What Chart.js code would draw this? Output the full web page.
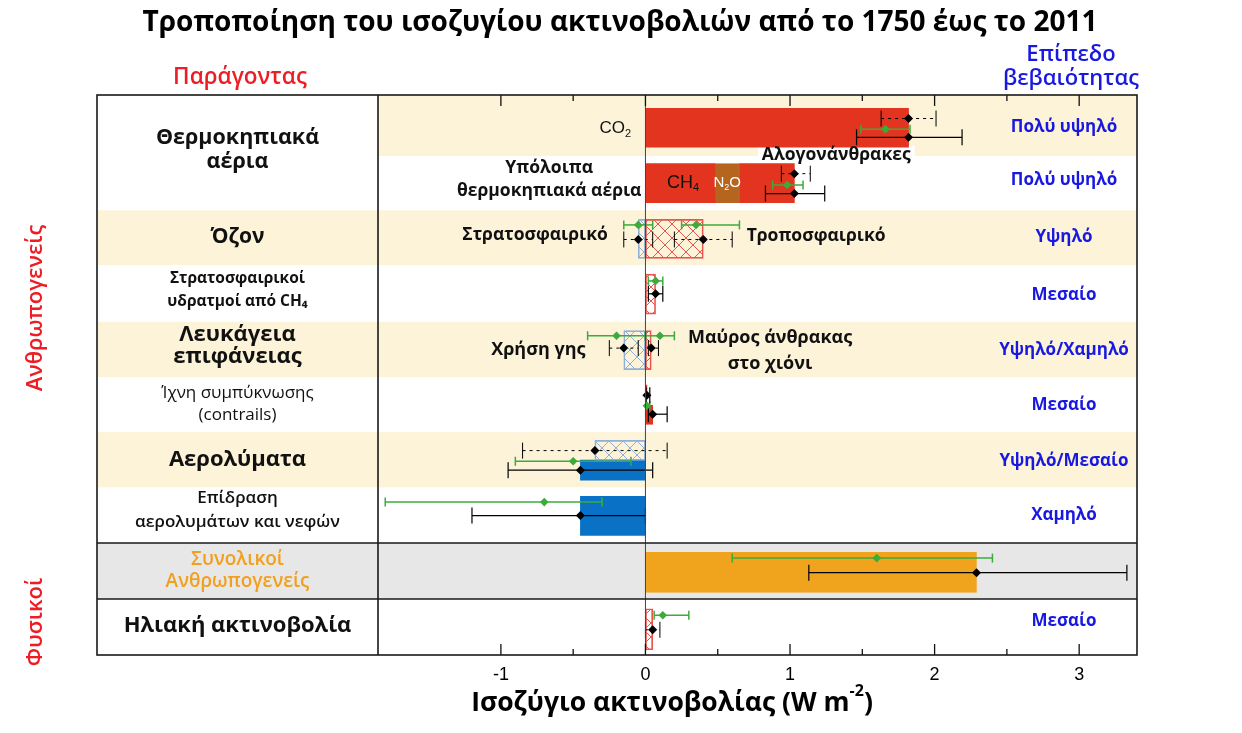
<!DOCTYPE html>
<html>
<head>
<meta charset="utf-8">
<script src="https://cdn.jsdelivr.net/npm/chart.js@4.4.0/dist/chart.umd.min.js"></script>
<style>
  html, body { margin: 0; padding: 0; background: #fff; }
  #wrap { width: 1242px; height: 733px; position: relative; }
</style>
</head>
<body>
<div id="wrap"><canvas id="chart"></canvas></div>
<script>
// ---- data (W m-2), rows top to bottom ----
const factors = ['CO2', 'Υπόλοιπα θερμοκηπιακά αέρια', 'Όζον', 'Στρατοσφαιρικοί υδρατμοί', 'Λευκάγεια επιφάνειας',
  'Ίχνη συμπύκνωσης', 'Αερολύματα', 'Επίδραση αερολυμάτων και νεφών', 'Συνολικοί Ανθρωπογενείς', 'Ηλιακή ακτινοβολία'];
const leftLabels = [['Θερμοκηπιακά', 'αέρια'], null, ['Όζον'], ['Στρατοσφαιρικοί', 'υδρατμοί από CH₄'], ['Λευκάγεια', 'επιφάνειας'],
  ['Ίχνη συμπύκνωσης', '(contrails)'], ['Αερολύματα'], ['Επίδραση', 'αερολυμάτων και νεφών'], ['Συνολικοί', 'Ανθρωπογενείς'], ['Ηλιακή ακτινοβολία']];
const confidence = ['Πολύ υψηλό', 'Πολύ υψηλό', 'Υψηλό', 'Μεσαίο', 'Υψηλό/Χαμηλό', 'Μεσαίο', 'Υψηλό/Μεσαίο', 'Χαμηλό', '', 'Μεσαίο'];

// bar segments
const barRow  = [0, 1, 1, 1, 2, 2, 3, 4, 4, 5, 5, 6, 6, 7, 8, 9];
const barFrom = [0, 0, 0.48, 0.65, -0.05, 0, 0, -0.15, 0, 0, 0, -0.35, -0.45, -0.45, 0, 0];
const barTo   = [1.82, 0.48, 0.65, 1.03, 0, 0.40, 0.07, 0, 0.04, 0.01, 0.05, 0, 0, 0, 2.29, 0.05];
const barKind = ['co2', 'ch4', 'n2o', 'halo', 'stratO3', 'tropO3', 'h2o', 'landuse', 'bc', 'contrail', 'cirrus', 'ari', 'erfari', 'aci', 'total', 'solar'];

// uncertainty ranges: rf = dotted black, erf = solid black, ar4 = green
const errRow  = [0, 0, 0, 1, 1, 1, 2, 2, 2, 2, 3, 3, 4, 4, 4, 4, 5, 5, 5, 6, 6, 6, 7, 7, 8, 8, 9, 9];
const errBest = [1.82, 1.66, 1.82, 1.03, 0.98, 1.03, -0.05, -0.05, 0.35, 0.40, 0.07, 0.07, -0.20, -0.15, 0.10, 0.04, 0.01, 0.01, 0.05, -0.35, -0.50, -0.45, -0.70, -0.45, 1.60, 2.29, 0.12, 0.05];
const errLow  = [1.63, 1.49, 1.46, 0.94, 0.88, 0.83, -0.15, -0.15, 0.25, 0.20, 0.02, 0.02, -0.40, -0.25, 0.00, 0.02, 0.005, 0.003, 0.02, -0.85, -0.90, -0.95, -1.80, -1.20, 0.60, 1.13, 0.06, 0.00];
const errHigh = [2.01, 1.83, 2.19, 1.14, 1.09, 1.24, 0.05, 0.05, 0.65, 0.60, 0.12, 0.12, 0.00, -0.05, 0.20, 0.09, 0.03, 0.03, 0.15, 0.15, -0.10, 0.05, -0.30, 0.00, 2.40, 3.33, 0.30, 0.10];
const errKind = ['rf', 'ar4', 'erf', 'rf', 'ar4', 'erf', 'ar4', 'rf', 'ar4', 'rf', 'ar4', 'erf', 'ar4', 'rf', 'ar4', 'rf', 'erf', 'ar4', 'erf', 'rf', 'ar4', 'erf', 'ar4', 'erf', 'ar4', 'erf', 'ar4', 'rf'];

const xTickLabels = [-1, 0, 1, 2, 3];

// ---- layout / styles ----
const PANEL_LEFT = 97;
const rowEdges = [0, 1.09, 2.06, 3.04, 4.05, 5.04, 6.02, 7.01, 8, 9, 10];
const errLane = [0.42, 0.61, 0.755, 0.405, 0.607, 0.76, 0.32, 0.58, 0.32, 0.58, 0.32, 0.55, 0.30, 0.52, 0.30, 0.52,
  0.36, 0.55, 0.70, 0.35, 0.54, 0.70, 0.27, 0.51, 0.27, 0.53, 0.29, 0.55];
const confLane = [0.57, 0.52, 0.54, 0.57, 0.55, 0.54, 0.54, 0.5, 0, 0.4];
const leftLane = [0.98, 0, 0.53, 0.49, 0.48, 0.52, 0.52, 0.41, 0.5, 0.48];
const rowBand  = ['beige', 'white', 'beige', 'white', 'beige', 'white', 'beige', 'white', 'gray', 'white'];
const leftBand = ['white', 'white', 'beige', 'white', 'beige', 'white', 'beige', 'white', 'gray', 'white'];
const bandColor = { beige: '#fcf3d9', white: '#ffffff', gray: '#e7e7e7' };
const leftFont = [[21.5, 'bold', 24], null, [21, 'bold', 0], [15.5, 'bold', 23], [22, 'bold', 22], [17, 'normal', 22],
  [22, 'bold', 0], [17, '600', 24], [19, '600', 22], [22, 'bold', 0]];

function hatch(color) {
  const c = document.createElement('canvas');
  c.width = c.height = 14;
  const g = c.getContext('2d');
  g.strokeStyle = color; g.lineWidth = 1;
  g.beginPath();
  g.moveTo(0, 0); g.lineTo(14, 14);
  g.moveTo(14, 0); g.lineTo(0, 14);
  g.stroke();
  return g.createPattern(c, 'repeat');
}
const RED = '#e2341f', HRED = '#e8554c', HBLUE = '#8fb0d8', BLUE = '#0a72c6';
const redHatch = hatch(HRED), blueHatch = hatch(HBLUE);
const barStyle = {
  co2:      { fill: RED, border: RED, lane: 0.585, thick: 39 },
  ch4:      { fill: RED, border: RED, lane: 0.575, thick: 39 },
  n2o:      { fill: '#b5651d', border: '#b5651d', lane: 0.575, thick: 39 },
  halo:     { fill: RED, border: RED, lane: 0.575, thick: 39 },
  stratO3:  { fill: blueHatch, border: HBLUE, lane: 0.57, thick: 39 },
  tropO3:   { fill: redHatch, border: HRED, lane: 0.57, thick: 39 },
  h2o:      { fill: redHatch, border: HRED, lane: 0.555, thick: 40 },
  landuse:  { fill: blueHatch, border: HBLUE, lane: 0.555, thick: 39 },
  bc:       { fill: redHatch, border: HRED, lane: 0.555, thick: 39 },
  contrail: { fill: RED, border: HRED, lane: 0.27, thick: 10 },
  cirrus:   { fill: RED, border: RED, lane: 0.71, thick: 19 },
  ari:      { fill: blueHatch, border: HBLUE, lane: 0.345, thick: 20 },
  erfari:   { fill: BLUE, border: BLUE, lane: 0.70, thick: 20 },
  aci:      { fill: BLUE, border: BLUE, lane: 0.515, thick: 39 },
  total:    { fill: '#f0a31c', border: '#f0a31c', lane: 0.525, thick: 40 },
  solar:    { fill: redHatch, border: HRED, lane: 0.54, thick: 41 }
};
const errStyle = {
  rf:  { color: '#000', dash: [3, 4], width: 1, cap: 8, dot: 4.5 },
  erf: { color: '#000', dash: [], width: 1.2, cap: 8, dot: 4.5 },
  ar4: { color: '#3cab3c', dash: [], width: 1.5, cap: 4.5, dot: 4.3 }
};

// in-plot annotations: [parts, x value, y value, align, size, weight, family, color]
const SANS = "'Open Sans', 'DejaVu Sans', sans-serif";
const ARIAL = "'Liberation Sans', Arial, sans-serif";
const annotations = [
  [[['CO', 'n'], ['2', 'sub']], -0.1, 0.6, 'right', 17, 'normal', ARIAL, '#111'],
  [[['Υπόλοιπα', 'n']], -0.666, 1.3, 'center', 17.5, 'bold', SANS, '#111'],
  [[['θερμοκηπιακά αέρια', 'n']], -0.666, 1.72, 'center', 17.5, 'bold', SANS, '#111'],
  [[['CH', 'n'], ['4', 'sub']], 0.26, 1.57, 'center', 18, 'normal', ARIAL, '#111'],
  [[['N', 'n'], ['2', 'sub'], ['O', 'n']], 0.565, 1.57, 'center', 15, 'normal', ARIAL, '#fff'],
  [[['Αλογονάνθρακες', 'n']], 1.32, 1.08, 'center', 17.5, 'bold', SANS, '#111'],
  [[['Στρατοσφαιρικό', 'n']], -0.26, 2.5, 'right', 17.5, 'bold', SANS, '#111'],
  [[['Τροποσφαιρικό', 'n']], 0.70, 2.51, 'left', 17.5, 'bold', SANS, '#111'],
  [[['Χρήση γης', 'n']], -0.415, 4.55, 'right', 18, 'bold', SANS, '#111'],
  [[['Μαύρος άνθρακας', 'n']], 0.862, 4.33, 'center', 18, 'bold', SANS, '#111'],
  [[['στο χιόνι', 'n']], 0.862, 4.81, 'center', 18, 'bold', SANS, '#111']
];

function drawParts(ctx, parts, x, y, align, size, weight, family, color) {
  const fontOf = m => `${weight} ${m === 'n' ? size : Math.round(size * 0.62)}px ${family}`;
  let total = 0;
  parts.forEach(([t, m]) => { ctx.font = fontOf(m); total += ctx.measureText(t).width; });
  let cx = align === 'center' ? x - total / 2 : align === 'right' ? x - total : x;
  ctx.textAlign = 'left';
  ctx.textBaseline = 'middle';
  ctx.fillStyle = color;
  parts.forEach(([t, m]) => {
    ctx.font = fontOf(m);
    const dy = m === 'sub' ? size * 0.3 : m === 'sup' ? -size * 0.42 : 0;
    ctx.fillText(t, cx, y + dy);
    cx += ctx.measureText(t).width;
  });
  return total;
}

// ---- datasets ----
const datasets = [];
barRow.forEach((r, i) => {
  const s = barStyle[barKind[i]];
  datasets.push({
    type: 'bar', indexAxis: 'y', label: barKind[i], stack: 'all', order: 3,
    data: [{ y: r + s.lane, x: [barFrom[i], barTo[i]] }],
    backgroundColor: s.fill, borderColor: s.border, borderWidth: s.fill === RED || s.fill === BLUE ? 0 : 1,
    borderSkipped: false, barThickness: s.thick
  });
});
errRow.forEach((r, i) => {
  const s = errStyle[errKind[i]];
  const yv = r + errLane[i];
  datasets.push({
    type: 'line', order: 2, label: 'err' + i,
    data: [{ x: errLow[i], y: yv }, { x: errHigh[i], y: yv }],
    borderColor: s.color, borderWidth: s.width, borderDash: s.dash, fill: false, tension: 0,
    pointStyle: 'line', pointRotation: 90, pointRadius: s.cap, pointBorderColor: s.color,
    pointBorderWidth: s.width, pointHoverRadius: s.cap
  });
});
['erf', 'ar4'].forEach(group => {
  const idx = errRow.map((r, i) => i).filter(i => (group === 'ar4') === (errKind[i] === 'ar4'));
  const s = errStyle[group];
  datasets.push({
    type: 'line', order: 1, label: 'best-' + group, showLine: false,
    data: idx.map(i => ({ x: errBest[i], y: errRow[i] + errLane[i] })),
    pointStyle: 'rectRot', pointRadius: s.dot, pointBackgroundColor: s.color,
    pointBorderColor: s.color, pointBorderWidth: 0
  });
});

// ---- drawing of panel, frame and texts ----
const panel = {
  id: 'panel',
  beforeDatasetsDraw(chart) {
    const { ctx, chartArea: a, scales: { x, y } } = chart;
    ctx.save();
    factors.forEach((f, i) => {
      const t = y.getPixelForValue(rowEdges[i]), b = y.getPixelForValue(rowEdges[i + 1]);
      ctx.fillStyle = bandColor[rowBand[i]];
      ctx.fillRect(a.left, t, a.right - a.left, b - t);
      ctx.fillStyle = bandColor[leftBand[i]];
      ctx.fillRect(PANEL_LEFT, t, a.left - PANEL_LEFT, b - t);
    });
    // white backing behind the halocarbon label, under the marks
    const h = annotations.find(an => an[0][0][0] === 'Αλογονάνθρακες');
    ctx.font = `${h[5]} ${h[4]}px ${h[6]}`;
    const w = ctx.measureText(h[0][0][0]).width;
    const px = x.getPixelForValue(h[1]), py = y.getPixelForValue(h[2]);
    ctx.fillStyle = '#fff';
    ctx.fillRect(px - w / 2 - 4, py - 10, w + 8, y.getPixelForValue(rowEdges[1]) - py + 10);
    ctx.restore();
  },
  afterDatasetsDraw(chart) {
    const { ctx, chartArea: a, scales: { x, y } } = chart;
    ctx.save();
    // zero line
    const x0 = x.getPixelForValue(0);
    ctx.strokeStyle = '#444'; ctx.lineWidth = 1;
    ctx.beginPath(); ctx.moveTo(x0, a.top); ctx.lineTo(x0, a.bottom); ctx.stroke();

    // inward ticks
    ctx.strokeStyle = '#111'; ctx.lineWidth = 1.3;
    x.ticks.forEach(t => {
      if (Math.abs(t.value * 2 - Math.round(t.value * 2)) > 1e-6) return;
      const px = x.getPixelForValue(t.value);
      const len = Number.isInteger(t.value) ? 11 : 6;
      ctx.beginPath();
      ctx.moveTo(px, a.bottom); ctx.lineTo(px, a.bottom - len);
      ctx.moveTo(px, a.top); ctx.lineTo(px, a.top + len);
      ctx.stroke();
    });

    // frame
    ctx.strokeStyle = '#1a1a1a'; ctx.lineWidth = 1.6;
    ctx.strokeRect(PANEL_LEFT, a.top, a.right - PANEL_LEFT, a.bottom - a.top);
    ctx.beginPath();
    ctx.moveTo(a.left, a.top); ctx.lineTo(a.left, a.bottom);
    [8, 9].forEach(v => {
      const py = y.getPixelForValue(v);
      ctx.moveTo(PANEL_LEFT, py); ctx.lineTo(a.right, py);
    });
    ctx.stroke();

    // annotations
    annotations.forEach(([parts, xv, yv, align, size, weight, family, color]) => {
      drawParts(ctx, parts, x.getPixelForValue(xv), y.getPixelForValue(yv), align, size, weight, family, color);
    });

    // left panel labels
    const cxLeft = (PANEL_LEFT + a.left) / 2;
    leftLabels.forEach((lines, i) => {
      if (!lines) return;
      const [size, weight, gap] = leftFont[i];
      const cy = y.getPixelForValue(i + leftLane[i]);
      const color = i === 8 ? '#f0a01e' : '#111';
      lines.forEach((ln, k) => {
        const py = cy + (k - (lines.length - 1) / 2) * gap;
        drawParts(ctx, [[ln, 'n']], cxLeft, py, 'center', size, weight, SANS, color);
      });
    });

    // confidence levels
    confidence.forEach((c, i) => {
      if (!c) return;
      drawParts(ctx, [[c, 'n']], 1064, y.getPixelForValue(i + confLane[i]), 'center', 17, 'bold', SANS, '#1818e0');
    });

    // headings
    drawParts(ctx, [['Τροποποίηση του ισοζυγίου ακτινοβολιών από το 1750 έως το 2011', 'n']], 620, 23, 'center', 28, 'bold', SANS, '#000');
    drawParts(ctx, [['Παράγοντας', 'n']], 240, 78, 'center', 22.5, '600', SANS, '#ee1c24');
    drawParts(ctx, [['Επίπεδο', 'n']], 1071, 55, 'center', 22, '600', SANS, '#1818e0');
    drawParts(ctx, [['βεβαιότητας', 'n']], 1071, 79, 'center', 22, '600', SANS, '#1818e0');

    // group labels (rotated)
    [['Ανθρωπογενείς', 308], ['Φυσικοί', 622]].forEach(([t, cy]) => {
      ctx.save();
      ctx.translate(36, cy);
      ctx.rotate(-Math.PI / 2);
      drawParts(ctx, [[t, 'n']], 0, 0, 'center', 22, '600', SANS, '#ee1c24');
      ctx.restore();
    });

    // axis title
    drawParts(ctx, [['Ισοζύγιο ακτινοβολίας (W m', 'n'], ['-2', 'sup'], [')', 'n']], 672, 703, 'center', 26.5, 'bold', SANS, '#000');
    ctx.restore();
  }
};

new Chart(document.getElementById('chart'), {
  type: 'bar',
  data: { datasets },
  options: {
    indexAxis: 'y',
    responsive: true,
    maintainAspectRatio: false,
    devicePixelRatio: 1,
    animation: false,
    events: [],
    layout: { padding: { left: 378, right: 105, top: 95, bottom: 0 } },
    plugins: { legend: { display: false }, tooltip: { enabled: false }, title: { display: false } },
    scales: {
      x: {
        type: 'linear', min: -1.85, max: 3.4, offset: false, stacked: false,
        grid: { display: false, drawTicks: false }, border: { display: false },
        ticks: {
          stepSize: 0.5, autoSkip: false, maxRotation: 0, padding: 9, color: '#000',
          font: { family: "'Liberation Sans', Arial, sans-serif", size: 18 },
          callback: v => xTickLabels.includes(v) ? String(v) : ''
        },
        afterFit: s => { s.height = 78; }
      },
      y: { type: 'linear', min: 0, max: 10, reverse: true, display: false, offset: false }
    }
  },
  plugins: [panel]
});
</script>
</body>
</html>
